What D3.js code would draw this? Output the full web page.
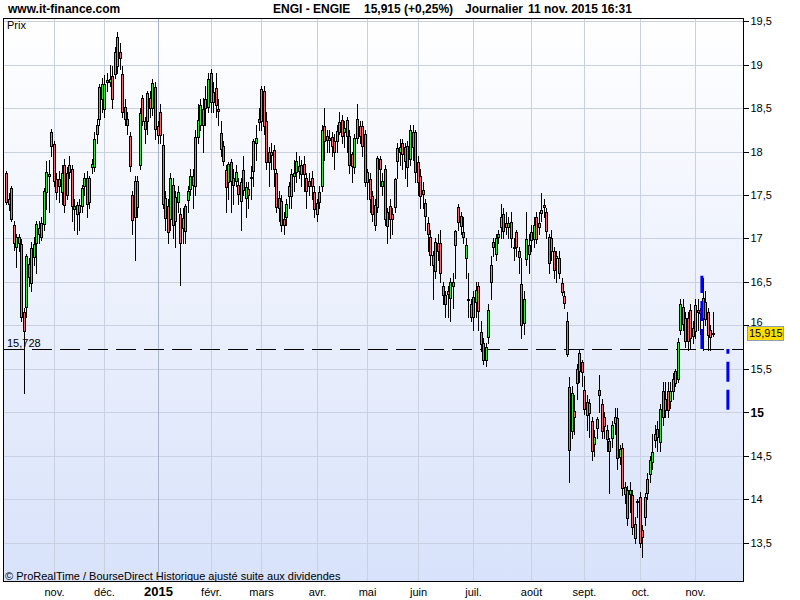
<!DOCTYPE html>
<html><head><meta charset="utf-8">
<script src="https://cdn.jsdelivr.net/npm/d3@7"></script>
<style>
html,body{margin:0;padding:0;background:#fff;}
svg{display:block;font-family:"Liberation Sans",Arial,sans-serif;}
</style></head><body>
<svg id="c" width="800" height="600"></svg>
<script>
// ENGI daily prices, Oct 7 2014 .. Nov 11 2015 (one entry per trading day)
const open = [
17.75,17.45,17.58,17.15,16.90,16.95,16.94,16.15,16.21,16.71,16.49,16.79,16.95,17.05,17.18,17.17,17.54,17.74,18.06,
18.09,17.68,17.60,17.53,17.85,17.50,17.76,17.80,17.34,17.28,17.39,17.37,17.60,17.70,17.42,17.82,17.82,18.20,18.37,18.60,
18.49,18.80,18.80,18.87,18.89,18.98,19.15,18.89,18.51,18.38,18.18,17.50,17.25,17.36,17.85,18.62,18.35,18.35,18.62,18.50,18.74,
18.29,18.46,18.07,17.47,17.37,17.22,17.62,17.20,17.42,17.28,17.12,17.08,17.44,17.57,17.72,17.60,18.17,18.30,18.49,18.50,18.51,
18.90,18.57,18.73,18.49,18.21,18.06,17.79,17.65,17.88,17.70,17.66,17.62,17.43,17.79,17.46,17.57,17.71,17.78,18.10,18.38,
18.35,18.70,18.35,18.00,17.96,18.02,17.75,17.47,17.43,17.22,17.25,17.49,17.49,17.72,17.77,17.83,17.74,17.86,17.70,17.60,17.70,17.54,
17.28,17.53,17.60,18.29,18.18,18.13,18.17,18.12,18.12,18.23,18.36,18.22,18.18,18.18,17.97,17.82,18.16,18.29,18.29,18.20,
17.76,17.68,17.49,17.16,17.36,17.92,17.60,17.80,17.30,17.37,17.28,17.36,17.89,17.99,18.10,18.05,18.06,17.91,18.22,18.22,
17.88,17.72,17.56,17.41,17.18,17.02,16.81,16.62,16.95,16.95,16.45,16.24,16.40,16.32,16.45,16.93,17.36,17.26,17.07,16.78,16.30,16.25,
16.33,16.27,16.45,15.92,15.80,15.60,15.87,16.50,16.96,16.82,17.02,17.13,17.28,17.18,17.13,17.19,16.90,17.07,16.85,16.48,16.03,16.76,16.82,
16.98,16.99,17.25,17.13,17.29,17.39,17.31,17.02,17.00,16.85,16.77,16.77,16.49,16.34,16.05,15.29,14.78,15.01,15.34,15.47,15.58,
15.26,15.12,15.11,14.90,14.64,14.82,15.26,15.09,14.95,14.79,14.67,14.70,14.88,14.93,14.48,14.59,14.14,14.10,14.06,14.05,13.55,13.98,
14.03,13.65,13.80,14.07,14.29,14.43,14.75,14.81,14.66,15.25,15.03,15.25,15.13,15.24,15.34,15.38,15.95,16.21,15.82,16.09,16.18,15.88,
15.93,16.18,16.18,16.31,16.27,16.15,15.95,15.91];
const high = [
17.78,17.52,17.60,17.20,17.05,17.05,16.99,16.20,16.82,16.78,16.96,17.02,17.20,17.20,17.25,17.58,17.89,17.90,18.26,
18.12,17.75,17.78,17.85,17.92,17.82,17.95,17.85,17.45,17.42,17.45,17.62,17.75,17.78,17.72,17.92,18.22,18.38,18.78,18.85,
18.88,18.90,19.00,18.98,19.20,19.38,19.25,18.98,18.60,18.45,18.22,17.55,17.72,17.72,18.50,18.65,18.40,18.70,18.70,18.83,18.80,
18.35,18.55,18.20,17.55,17.45,17.75,17.70,17.55,17.60,17.35,17.35,17.40,17.60,17.80,17.80,18.25,18.55,18.60,18.62,18.75,18.90,
18.95,18.80,18.90,18.60,18.35,18.12,17.85,17.88,17.92,17.80,17.85,17.70,17.70,17.95,17.65,17.65,17.83,18.15,18.30,18.50,
18.75,18.75,18.45,18.05,18.10,18.08,17.80,17.55,17.50,17.30,17.45,17.65,17.80,17.90,18.00,17.95,17.90,17.95,17.75,17.75,17.78,17.60,
17.45,17.60,18.30,18.50,18.25,18.25,18.22,18.20,18.30,18.45,18.42,18.35,18.40,18.25,18.00,18.20,18.55,18.35,18.35,18.25,
17.80,17.75,17.55,17.45,17.95,17.95,17.75,17.85,17.35,17.45,17.35,17.70,18.10,18.15,18.15,18.10,18.12,18.30,18.30,18.25,
17.95,17.80,17.65,17.45,17.25,17.10,16.85,17.00,17.05,17.10,16.50,16.40,16.45,16.55,16.60,17.10,17.40,17.30,17.25,17.00,16.60,16.30,
16.40,16.50,16.50,16.05,15.85,15.80,16.25,16.80,17.00,17.05,17.10,17.40,17.35,17.30,17.25,17.30,17.00,17.10,16.90,16.78,16.40,17.30,17.05,
17.15,17.25,17.30,17.30,17.52,17.45,17.35,17.05,17.10,16.90,16.85,16.85,16.55,16.40,16.15,15.40,15.30,15.20,15.55,15.72,15.60,
15.42,15.20,15.15,14.95,14.80,14.95,15.43,15.15,15.00,14.85,14.70,14.90,15.05,15.05,14.62,14.65,14.20,14.15,14.20,14.10,13.80,14.00,
14.08,13.70,14.07,14.30,14.50,14.75,14.85,14.90,15.10,15.35,15.35,15.35,15.35,15.45,15.50,15.85,16.30,16.30,16.15,16.15,16.25,16.05,
16.30,16.30,16.20,16.55,16.40,16.20,16.00,16.15];
const low = [
17.40,17.33,17.20,16.87,16.67,16.85,16.05,15.22,16.10,16.45,16.40,16.70,16.60,16.95,16.98,17.10,17.34,17.30,17.95,
17.60,17.45,17.42,17.40,17.30,17.45,17.70,17.20,17.10,17.05,17.10,17.30,17.50,17.25,17.35,17.75,17.78,18.10,18.30,18.45,
18.40,18.70,18.75,18.50,18.85,18.90,18.95,18.40,18.30,18.20,17.78,17.05,16.75,17.25,17.80,18.30,18.10,18.20,18.40,18.42,18.15,
18.10,18.10,17.35,17.10,16.95,17.10,17.00,16.90,17.30,16.47,16.95,16.95,17.30,17.50,17.35,17.50,18.10,18.25,18.00,18.30,18.45,
18.45,18.45,18.40,18.30,17.95,17.85,17.30,17.45,17.30,17.40,17.60,17.40,17.10,17.50,17.25,17.35,17.45,17.60,17.90,18.25,
18.25,18.20,17.80,17.60,17.80,17.60,17.30,17.20,17.08,17.05,17.15,17.35,17.35,17.55,17.65,17.70,17.60,17.55,17.35,17.50,17.45,17.25,
17.20,17.35,17.55,17.90,18.00,18.00,17.95,17.80,18.00,18.20,18.10,18.05,18.00,17.75,17.65,17.75,18.10,18.10,17.95,17.60,
17.45,17.30,17.20,17.10,17.30,17.60,17.50,17.15,16.95,17.00,17.05,17.30,17.70,17.85,17.80,17.70,17.60,17.85,17.90,17.65,
17.50,17.35,17.35,17.10,16.85,16.70,16.30,16.55,16.75,16.50,16.25,16.10,16.10,16.05,16.20,16.55,17.10,17.05,16.95,16.55,16.10,16.05,
15.95,16.10,15.95,15.70,15.55,15.53,15.80,16.30,16.80,16.75,16.95,17.00,17.00,17.05,17.00,16.90,16.75,16.80,16.60,15.85,15.90,16.70,16.60,
16.85,16.90,16.95,17.05,17.20,17.25,17.00,16.60,16.75,16.55,16.50,16.55,16.35,16.20,15.65,14.20,14.70,14.75,15.15,15.35,15.30,
14.98,14.80,14.72,14.45,14.50,14.70,15.00,14.70,14.70,14.55,14.07,14.60,14.75,14.35,14.40,14.05,13.95,13.70,13.85,13.60,13.50,13.80,
13.45,13.34,13.70,14.00,14.20,14.35,14.60,14.55,14.55,14.85,14.95,14.95,15.05,15.15,15.30,15.35,15.90,15.95,15.75,15.72,15.73,15.80,
15.85,15.95,15.90,15.72,16.00,15.72,15.72,15.88];
const close = [
17.42,17.40,17.22,16.95,17.02,17.02,16.10,15.93,16.80,16.56,16.89,16.94,17.17,17.12,17.02,17.55,17.77,17.72,18.22,
17.66,17.53,17.68,17.75,17.39,17.75,17.84,17.37,17.37,17.38,17.30,17.58,17.69,17.40,17.70,17.86,18.15,18.31,18.74,18.78,
18.78,18.82,18.84,18.60,19.14,19.32,19.08,18.46,18.37,18.31,17.83,17.21,17.66,17.66,18.44,18.35,18.26,18.67,18.50,18.79,18.26,
18.19,18.19,17.40,17.23,17.07,17.69,17.16,17.48,17.54,16.95,17.24,17.37,17.55,17.72,17.61,18.17,18.36,18.53,18.31,18.61,18.83,
18.57,18.68,18.54,18.47,18.03,17.89,17.59,17.86,17.66,17.62,17.77,17.51,17.65,17.56,17.59,17.50,17.70,18.12,18.16,18.34,
18.72,18.29,17.88,17.88,17.99,17.80,17.36,17.35,17.16,17.16,17.40,17.60,17.74,17.75,17.89,17.78,17.85,17.74,17.55,17.66,17.60,17.34,
17.41,17.42,18.25,18.12,18.13,18.16,18.06,18.00,18.24,18.34,18.18,18.27,18.36,17.85,17.83,18.16,18.37,18.18,18.06,17.65,
17.65,17.45,17.28,17.39,17.93,17.80,17.66,17.22,17.14,17.22,17.22,17.68,18.04,18.05,17.97,17.89,17.82,18.25,18.05,17.77,
17.65,17.49,17.51,17.26,17.05,16.81,16.70,16.96,16.85,16.60,16.35,16.35,16.36,16.50,16.50,17.08,17.19,17.14,17.02,16.92,16.30,16.10,
16.10,16.41,16.16,15.78,15.60,15.75,16.18,16.69,16.90,17.01,17.05,17.25,17.08,17.13,17.18,17.00,16.89,16.90,16.79,16.00,16.30,16.99,16.92,
17.07,17.16,16.99,17.18,17.33,17.36,17.08,16.72,16.85,16.64,16.80,16.60,16.38,16.26,15.67,14.57,15.22,14.94,15.50,15.68,15.46,
15.04,14.97,14.99,14.55,14.72,14.92,15.20,14.78,14.84,14.69,14.55,14.85,14.95,14.47,14.58,14.13,14.06,13.78,14.10,13.68,13.71,13.97,
13.50,13.57,14.03,14.23,14.45,14.54,14.68,14.72,15.04,14.94,15.15,15.03,15.25,15.38,15.47,15.81,16.24,16.02,16.09,15.82,15.86,15.97,
16.23,16.15,16.14,16.09,16.07,15.89,15.87,15.915];

const monthLabels = ["nov.","déc.","2015","févr.","mars","avr.","mai","juin","juil.","août","sept.","oct.","nov."];
const monthStart  = [19,39,60,81,101,123,143,163,185,208,229,251,273];   // trading-day index of first session
const priceTicks  = [13.5,14,14.5,15,15.5,16,16.5,17,17.5,18,18.5,19,19.5];
const lastPrice = 15.915;
const refLevel  = 15.728;
const projIndex = [275.6, 285.9];          // position (in sessions) of the two projection segments
const projFrom  = [15.728, 15.03];
const projTo    = [16.57, 15.728];

(function () {
const N = close.length;
const svg = d3.select("#c");
const L = 3, R = 743, T = 18, B = 581;

const x = d3.scaleLinear().domain([0, N - 1]).range([6, 713]);
const y = d3.scaleLinear().domain([13.5, 19.5]).range([542.6, 21.2]);
const fmt = d => String(d).replace(".", ",");

// header
const hdr = svg.append("g").attr("font-weight", "bold").attr("font-size", 12).attr("fill", "#000");
hdr.append("text").attr("x", 8).attr("y", 13).text("www.it-finance.com");
hdr.append("text").attr("x", 273).attr("y", 13).text("ENGI - ENGIE");
hdr.append("text").attr("x", 364).attr("y", 13).text(fmt(lastPrice) + " (+0,25%)");
hdr.append("text").attr("x", 465).attr("y", 13).text("Journalier");
hdr.append("text").attr("x", 528).attr("y", 13).text("11 nov. 2015 16:31");

// plot background
const defs = svg.append("defs");
const grad = defs.append("linearGradient").attr("id", "bg").attr("x1", 0).attr("y1", 0).attr("x2", 0).attr("y2", 1);
grad.append("stop").attr("offset", "0%").attr("stop-color", "#ffffff");
grad.append("stop").attr("offset", "100%").attr("stop-color", "#d8e2fa");
svg.append("rect").attr("x", L).attr("y", T).attr("width", R - L).attr("height", B - T).attr("fill", "url(#bg)");

const grid = svg.append("g").attr("shape-rendering", "crispEdges");
grid.selectAll("line.h").data(priceTicks).join("line")
  .attr("x1", L + 1).attr("x2", R)
  .attr("y1", d => Math.round(y(d)) + 0.5).attr("y2", d => Math.round(y(d)) + 0.5)
  .attr("stroke", "#c9d0e1");
grid.selectAll("line.v").data(monthStart).join("line")
  .attr("x1", d => Math.round(x(d)) + 0.5).attr("x2", d => Math.round(x(d)) + 0.5)
  .attr("y1", T + 1).attr("y2", B)
  .attr("stroke", (d, i) => monthLabels[i] === "2015" ? "#a9b4cc" : "#c9d0e1");

// reference level
const yRef = Math.round(y(refLevel)) + 0.5;
svg.append("line").attr("x1", L + 1).attr("x2", R).attr("y1", yRef).attr("y2", yRef)
  .attr("stroke", "#000").attr("stroke-dasharray", "20 8").attr("shape-rendering", "crispEdges");
svg.append("text").attr("x", 7).attr("y", yRef - 2.5).attr("font-size", 11).text(fmt(refLevel));

svg.append("text").attr("x", 7).attr("y", 29).attr("font-size", 11).text("Prix");
svg.append("text").attr("x", 5).attr("y", 580).attr("font-size", 11)
  .text("© ProRealTime / BourseDirect  Historique ajusté suite aux dividendes");

// candles
const cg = svg.append("g").attr("shape-rendering", "crispEdges");
const idx = d3.range(N);
const cx = i => Math.round(x(i));
cg.selectAll("rect.w").data(idx).join("rect").attr("class", "w")
  .attr("x", i => cx(i)).attr("width", 1)
  .attr("y", i => Math.round(y(high[i])))
  .attr("height", i => Math.round(y(low[i])) - Math.round(y(high[i])) + 1)
  .attr("fill", "#000");
const bodyTop = i => Math.round(y(Math.max(open[i], close[i])));
const bodyBot = i => Math.round(y(Math.min(open[i], close[i])));
cg.selectAll("rect.b").data(idx).join("rect").attr("class", "b")
  .attr("x", i => cx(i) - 1).attr("width", 3)
  .attr("y", bodyTop)
  .attr("height", i => Math.max(bodyBot(i) - bodyTop(i) + 1, 2))
  .attr("fill", "#000");
cg.selectAll("rect.f").data(idx.filter(i => bodyBot(i) - bodyTop(i) > 1)).join("rect").attr("class", "f")
  .attr("x", i => cx(i)).attr("width", 1)
  .attr("y", i => bodyTop(i) + 1)
  .attr("height", i => bodyBot(i) - bodyTop(i) - 1)
  .attr("fill", i => close[i] > open[i] ? "#3fe03f" : "#f06b6b");

// projection segments
svg.selectAll("line.p").data(projIndex).join("line")
  .attr("x1", d => x(d)).attr("x2", d => x(d))
  .attr("y1", (d, i) => y(projFrom[i])).attr("y2", (d, i) => y(projTo[i]))
  .attr("stroke", "#0000ee").attr("stroke-width", 3).attr("stroke-dasharray", "20 8");

// frame
svg.append("rect").attr("x", L + 0.5).attr("y", T + 0.5).attr("width", R - L).attr("height", B - T)
  .attr("fill", "none").attr("stroke", "#000").attr("shape-rendering", "crispEdges");

// right axis
const yl = Math.round(y(lastPrice));
const boxTop = yl - 7;
const ax = svg.append("g").attr("transform", `translate(${R + 0.5},0)`)
  .call(d3.axisRight(y).tickValues(priceTicks).tickSize(5).tickPadding(2).tickFormat(fmt));
ax.select(".domain").remove();
ax.selectAll("line").attr("stroke", "#000").attr("shape-rendering", "crispEdges");
ax.selectAll("text").attr("font-family", "Liberation Sans, Arial, sans-serif").attr("fill", "#000")
  .attr("font-weight", d => d === 15 ? "bold" : "normal").attr("font-size", d => d === 15 ? 12 : 11);
// the label that sits under the last-price box is lifted so it peeks out above it
ax.selectAll(".tick").filter(d => Math.abs(y(d) - yl) < 10).select("text")
  .attr("dy", null).attr("y", d => boxTop - y(d) - 1);

// last price box
svg.append("rect").attr("x", 747.5).attr("y", boxTop + 0.5).attr("width", 36).attr("height", 14)
  .attr("fill", "#ffdd00").attr("stroke", "#8d9db3");
svg.append("text").attr("x", 749).attr("y", yl + 4).attr("font-size", 11).text(fmt(lastPrice));

// month labels
svg.selectAll("text.m").data(monthStart).join("text")
  .attr("x", d => Math.round(x(d)) + 0.5).attr("y", 596)
  .attr("text-anchor", "middle")
  .attr("font-size", (d, i) => monthLabels[i] === "2015" ? 13 : 11)
  .attr("font-weight", (d, i) => monthLabels[i] === "2015" ? "bold" : "normal")
  .text((d, i) => monthLabels[i]);
})();
</script>
</body></html>
